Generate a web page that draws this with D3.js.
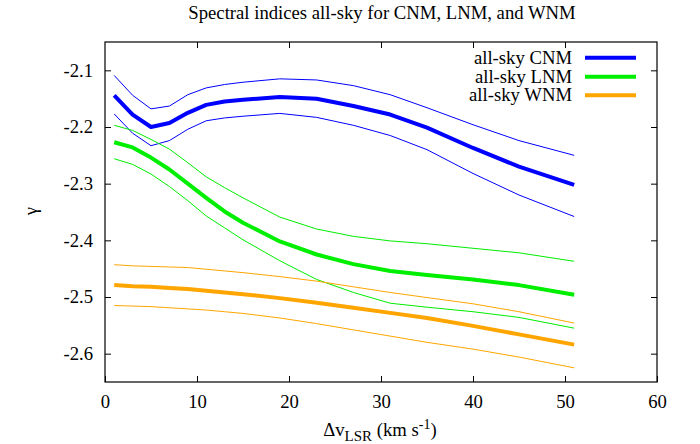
<!DOCTYPE html>
<html><head><meta charset="utf-8">
<script src="https://cdn.jsdelivr.net/npm/d3@7"></script>
<style>
body{margin:0;background:#fff}
text{font-family:"Liberation Serif","Times New Roman",serif;fill:#000}
</style>
</head><body><svg id="c" width="700" height="444"></svg>
<script>
const velocity = [1,3,5,7,9,11,13,15,19,23,27,31,35,40,45,51];
const cnm    = [-2.144,-2.178,-2.200,-2.193,-2.175,-2.161,-2.155,-2.152,-2.147,-2.150,-2.163,-2.178,-2.201,-2.237,-2.270,-2.302];
const cnmUp  = [-2.109,-2.144,-2.168,-2.163,-2.143,-2.131,-2.125,-2.121,-2.115,-2.117,-2.127,-2.143,-2.166,-2.196,-2.224,-2.250];
const cnmLo  = [-2.177,-2.211,-2.233,-2.224,-2.204,-2.189,-2.184,-2.181,-2.176,-2.183,-2.197,-2.215,-2.240,-2.282,-2.320,-2.358];
const lnm    = [-2.227,-2.236,-2.254,-2.275,-2.300,-2.325,-2.349,-2.369,-2.402,-2.425,-2.442,-2.454,-2.461,-2.469,-2.479,-2.496];
const lnmUp  = [-2.197,-2.206,-2.222,-2.239,-2.263,-2.288,-2.307,-2.325,-2.359,-2.380,-2.393,-2.401,-2.406,-2.414,-2.422,-2.437];
const lnmLo  = [-2.256,-2.266,-2.283,-2.305,-2.330,-2.357,-2.378,-2.399,-2.436,-2.469,-2.492,-2.511,-2.518,-2.526,-2.536,-2.555];
const wnm    = [-2.479,-2.481,-2.482,-2.484,-2.486,-2.489,-2.492,-2.495,-2.502,-2.510,-2.519,-2.528,-2.537,-2.551,-2.566,-2.584];
const wnmUp  = [-2.443,-2.445,-2.446,-2.447,-2.448,-2.451,-2.454,-2.457,-2.464,-2.472,-2.482,-2.492,-2.501,-2.512,-2.526,-2.546];
const wnmLo  = [-2.515,-2.516,-2.517,-2.519,-2.521,-2.523,-2.526,-2.529,-2.537,-2.547,-2.558,-2.569,-2.580,-2.592,-2.606,-2.625];
const xTicks = [0,10,20,30,40,50,60];
const yTicks = [-2.6,-2.5,-2.4,-2.3,-2.2,-2.1];
const legendLabels = ["all-sky CNM","all-sky LNM","all-sky WNM"];
const colors = ["#0000ff","#00ee00","#ffa500"];
const titleText = "Spectral indices all-sky for CNM, LNM, and WNM";

const svg = d3.select("#c");
const L=105, R=657, T=42, B=382;
const x = d3.scaleLinear().domain([0,60]).range([L,R]);
const y = d3.scaleLinear().domain([-2.65,-2.05]).range([B,T]);
const fs = 18.7;

const ax = (g, a) => { g.call(a); g.attr("font-family",null).attr("font-size",null); g.select(".domain").remove(); g.selectAll(".tick line").attr("stroke","#000"); };
svg.append("g").attr("transform",`translate(0,${B})`)
  .call(g=>ax(g,d3.axisBottom(x).tickValues(xTicks).tickSizeInner(-6).tickSizeOuter(0).tickPadding(13).tickFormat(d3.format("d"))))
  .selectAll("text").attr("font-size",fs);
svg.append("g").attr("transform",`translate(0,${T})`)
  .call(g=>ax(g,d3.axisTop(x).tickValues(xTicks.slice(1,-1)).tickSizeInner(-6).tickSizeOuter(0).tickFormat("")));
svg.append("g").attr("transform",`translate(${L},0)`)
  .call(g=>ax(g,d3.axisLeft(y).tickValues(yTicks).tickSizeInner(-6).tickSizeOuter(0).tickPadding(12).tickFormat(d3.format(".1f"))))
  .selectAll("text").attr("font-size",fs);
svg.append("g").attr("transform",`translate(${R},0)`)
  .call(g=>ax(g,d3.axisRight(y).tickValues(yTicks).tickSizeInner(-6).tickSizeOuter(0).tickFormat("")));
svg.selectAll(".tick text").text(function(){return d3.select(this).text().replace("−","-");});

svg.append("rect").attr("x",L).attr("y",T).attr("width",R-L).attr("height",B-T)
  .attr("fill","none").attr("stroke","#000").attr("stroke-width",1.2);

const line = d3.line().x((d,i)=>x(velocity[i])).y(d=>y(d));
const series = [
  {v:cnmUp,c:0,w:1},{v:cnmLo,c:0,w:1},
  {v:lnmUp,c:1,w:1},{v:lnmLo,c:1,w:1},
  {v:wnmUp,c:2,w:1},{v:wnmLo,c:2,w:1},
  {v:cnm,c:0,w:4},{v:lnm,c:1,w:4},{v:wnm,c:2,w:4}
];
svg.append("g").selectAll("path").data(series).join("path")
  .attr("d",d=>line(d.v)).attr("fill","none")
  .attr("stroke",d=>colors[d.c]).attr("stroke-width",d=>d.w)
  .attr("stroke-linejoin","round");

const ly = [57.7,76.7,95.3];
const lg = svg.append("g");
legendLabels.forEach((t,i)=>{
  lg.append("text").attr("x",572).attr("y",ly[i]).attr("dy","0.33em").attr("text-anchor","end")
    .attr("font-size",fs).text(t);
  lg.append("line").attr("x1",585).attr("x2",636).attr("y1",ly[i]).attr("y2",ly[i])
    .attr("stroke",colors[i]).attr("stroke-width",4);
});

svg.append("text").attr("x",382).attr("y",19).attr("text-anchor","middle").attr("font-size",fs).text(titleText);

svg.append("text").attr("transform","translate(37,211) rotate(-90)").attr("text-anchor","middle")
  .attr("font-size",fs).text("γ");

const xl = svg.append("text").attr("x",380).attr("y",436).attr("text-anchor","middle").attr("font-size",fs);
xl.append("tspan").text("Δv");
xl.append("tspan").attr("font-size",15).attr("dy",5).text("LSR");
xl.append("tspan").attr("dy",-5).text(" (km s");
xl.append("tspan").attr("font-size",14).attr("dy",-7).text("-1");
xl.append("tspan").attr("dy",7).text(")");
</script>
</body></html>
